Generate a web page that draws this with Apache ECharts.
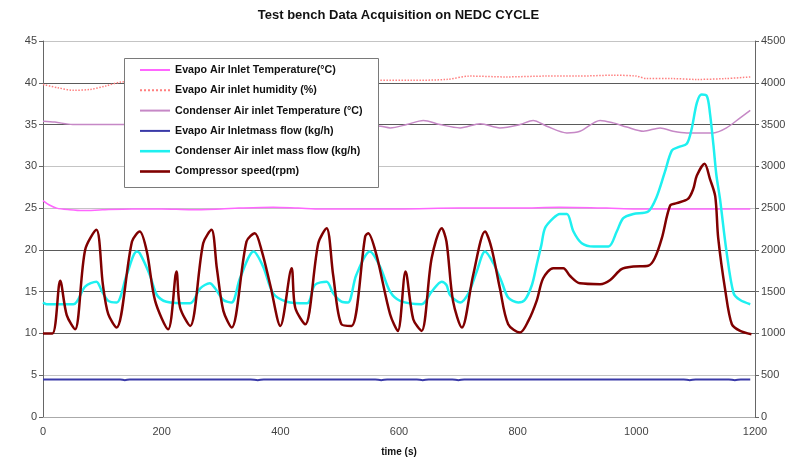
<!DOCTYPE html>
<html>
<head>
<meta charset="utf-8">
<script src="https://cdn.jsdelivr.net/npm/echarts@6/dist/echarts.min.js"></script>
<style>html,body{margin:0;padding:0;background:#fff}#c{width:797px;height:462px}</style>
</head>
<body>
<div id="c"></div>
<script>
// ---- Data ----
var seriesNames = [
  'Evapo Air Inlet Temperature(°C)',
  'Evapo Air inlet humidity (%)',
  'Condenser Air inlet Temperature (°C)',
  'Evapo Air Inletmass flow (kg/h)',
  'Condenser Air inlet mass flow (kg/h)',
  'Compressor speed(rpm)'
];
var xTicks = [0, 200, 400, 600, 800, 1000, 1200];
var leftTicks = [0, 5, 10, 15, 20, 25, 30, 35, 40, 45];
var rightTicks = [0, 500, 1000, 1500, 2000, 2500, 3000, 3500, 4000, 4500];

var evapTempT = [0,10,23,45,67,100,150,200,250,300,330,388,430,470,520,600,700,800,870,950,1000,1100,1150,1192];
var evapTempV = [25.9,25.4,25.0,24.8,24.7,24.8,24.9,24.9,24.8,24.9,25.0,25.1,25.0,24.9,24.9,24.9,25.0,25.0,25.1,25.0,24.9,24.9,24.9,24.9];

var humidT = [0,25,51,79,105,133,200,300,400,500,565,620,680,720,780,849,900,961,1000,1017,1060,1102,1150,1192];
var humidV = [39.8,39.4,39.1,39.2,39.6,40.1,40.2,40.2,40.2,40.3,40.3,40.3,40.4,40.8,40.7,40.8,40.8,40.9,40.8,40.5,40.5,40.4,40.5,40.7];

var condTempT = [0,20,50,100,133,200,300,400,500,569,585,613,641,669,703,737,770,804,826,849,883,905,939,961,984,1012,1040,1062,1085,1130,1152,1175,1192];
var condTempV = [35.4,35.3,35.0,35.0,35.0,35.0,35.0,35.0,34.9,34.8,34.6,35.0,35.5,35.0,34.6,35.1,34.6,35.0,35.5,34.8,34.0,34.2,35.5,35.2,34.7,34.2,34.6,34.2,34.0,34.0,34.6,35.8,36.7];

var evapFlowT = [0,130,138,146,350,362,372,560,570,580,630,640,650,690,700,710,1080,1090,1100,1156,1166,1176,1192];
var evapFlowV = [450,450,440,450,450,440,450,450,440,450,450,440,450,450,440,450,450,440,450,450,440,450,450];

var condFlowT = [0,6,51,71,90,99,110,124,141,158,163,180,192,208,248,265,281,290,304,318,332,355,371,388,411,445,458,478,489,503,514,528,551,568,585,602,638,655,672,680,686,703,717,731,745,759,773,784,801,812,824,832,840,846,860,871,883,894,908,928,953,967,978,995,1020,1034,1048,1060,1071,1085,1093,1102,1110,1119,1124,1130,1135,1141,1152,1164,1175,1192];
var condFlowV = [1370,1350,1350,1560,1620,1510,1390,1370,1700,1980,1960,1700,1460,1380,1360,1540,1600,1540,1400,1370,1660,1980,1800,1480,1380,1360,1580,1620,1480,1380,1370,1700,1980,1800,1500,1390,1350,1500,1620,1580,1460,1370,1480,1740,1980,1840,1620,1430,1370,1400,1580,1820,2060,2260,2380,2430,2430,2220,2080,2040,2040,2220,2380,2430,2460,2630,2930,3190,3230,3270,3440,3760,3860,3840,3640,3250,2890,2610,1980,1480,1400,1350];

var compT = [0,16,29,40,54,71,90,101,110,124,150,163,175,189,211,225,231,248,270,284,293,304,318,343,357,369,383,400,419,425,442,464,478,489,503,520,543,548,562,585,598,611,624,638,655,672,680,691,706,725,745,756,770,784,804,818,832,843,860,877,888,905,939,956,975,995,1020,1031,1043,1057,1068,1087,1096,1102,1115,1124,1133,1138,1150,1161,1175,1194];
var compV = [1000,1000,1630,1220,1050,2000,2240,1580,1230,1070,2100,2220,1980,1390,1050,1740,1310,1090,2080,2240,1780,1270,1070,2100,2200,1980,1580,1090,1780,1310,1110,2080,2260,1700,1110,1090,2160,2200,1940,1230,1030,1740,1170,1030,1900,2260,2100,1390,1070,1700,2220,2020,1540,1110,1010,1150,1390,1660,1780,1780,1690,1600,1590,1640,1770,1800,1810,1900,2140,2530,2560,2610,2730,2890,3030,2850,2640,2140,1510,1110,1030,990];

function pairs(t, v) { return t.map(function (x, i) { return [x, v[i]]; }); }

var FONT = '"Liberation Sans", Arial, sans-serif';
var chart = echarts.init(document.getElementById('c'), null, { renderer: 'canvas' });

var seriesColors = ['#ff66ff', '#ff7f7f', '#c688c6', '#3a3aa8', '#1ef0f0', '#800000'];
var solidIcon = 'path://M0,0h30v2h-30z';
var thickIcon = 'path://M0,0h30v2.6h-30z';
var dottedIcon = 'path://M0,0h2v2h-2z M4,0h2v2h-2z M8,0h2v2h-2z M12,0h2v2h-2z M16,0h2v2h-2z M20,0h2v2h-2z M24,0h2v2h-2z M28,0h2v2h-2z';
var legendIcons = [solidIcon, dottedIcon, solidIcon, solidIcon, thickIcon, thickIcon];

function lineSeries(idx, t, v, yIdx, width, type) {
  var color = seriesColors[idx];
  return {
    name: seriesNames[idx], type: 'line', yAxisIndex: yIdx, data: pairs(t, v),
    symbol: 'none', showSymbol: false, smooth: 0.3, animation: false,
    lineStyle: { color: color, width: width, type: type || 'solid' },
    itemStyle: { color: color }
  };
}

var option = {
  animation: false,
  backgroundColor: '#fff',
  title: {
    text: 'Test bench Data Acquisition on NEDC CYCLE',
    left: 'center', top: 4,
    textStyle: { fontFamily: FONT, fontSize: 13, fontWeight: 'bold', color: '#111' }
  },
  grid: { left: 43, right: 42, top: 41, bottom: 42, containLabel: false },
  graphic: [{
    type: 'rect', z: 10,
    shape: { x: 124.5, y: 58.5, width: 254, height: 129 },
    style: { fill: '#fff', stroke: '#7a7a7a', lineWidth: 1 }
  }],
  legend: {
    orient: 'vertical', left: 124, top: 58, z: 20,
    padding: [5, 10, 5, 16],
    itemWidth: 30, itemHeight: 14, itemGap: 6.3,
    symbolKeepAspect: true,
    data: seriesNames.map(function (n, i) { return { name: n, icon: legendIcons[i], itemStyle: { color: seriesColors[i] } }; }),
    textStyle: { fontFamily: FONT, fontSize: 10.7, fontWeight: 'bold', color: '#111', lineHeight: 14 }
  },
  xAxis: {
    type: 'value', min: 0, max: 1200, interval: 200,
    name: 'time (s)', nameLocation: 'middle', nameGap: 30,
    nameTextStyle: { fontFamily: FONT, fontSize: 10, fontWeight: 'bold', color: '#111' },
    axisLine: { show: true, lineStyle: { color: '#aaa' } },
    axisTick: { show: false },
    splitLine: { show: false },
    axisLabel: { fontFamily: FONT, fontSize: 11, color: '#444', margin: 9, formatter: function (v) { return String(v); } }
  },
  yAxis: [{
    type: 'value', min: 0, max: 45, interval: 5, position: 'left',
    axisLine: { show: true, lineStyle: { color: '#666' } },
    axisTick: { show: true, length: 4, lineStyle: { color: '#666' } },
    axisLabel: { fontFamily: FONT, fontSize: 11, color: '#444', margin: 6, formatter: function (v) { return String(v); } },
    splitLine: { show: true, lineStyle: { width: 1, color: ['#c4c4c4','#c4c4c4','#5a5a5a','#5a5a5a','#5a5a5a','#c4c4c4','#c4c4c4','#5a5a5a','#5a5a5a','#c4c4c4'] } }
  }, {
    type: 'value', min: 0, max: 4500, interval: 500, position: 'right',
    axisLine: { show: true, lineStyle: { color: '#666' } },
    axisTick: { show: true, length: 4, lineStyle: { color: '#666' } },
    axisLabel: { fontFamily: FONT, fontSize: 11, color: '#444', margin: 6, formatter: function (v) { return String(v); } },
    splitLine: { show: false }
  }],
  series: [
    lineSeries(0, evapTempT, evapTempV, 0, 1.5),
    lineSeries(1, humidT, humidV, 0, 1.5, 'dotted'),
    lineSeries(2, condTempT, condTempV, 0, 1.5),
    lineSeries(3, evapFlowT, evapFlowV, 1, 2),
    lineSeries(4, condFlowT, condFlowV, 1, 2.5),
    lineSeries(5, compT, compV, 1, 2.5)
  ]
};
chart.setOption(option);
</script>
</body>
</html>
